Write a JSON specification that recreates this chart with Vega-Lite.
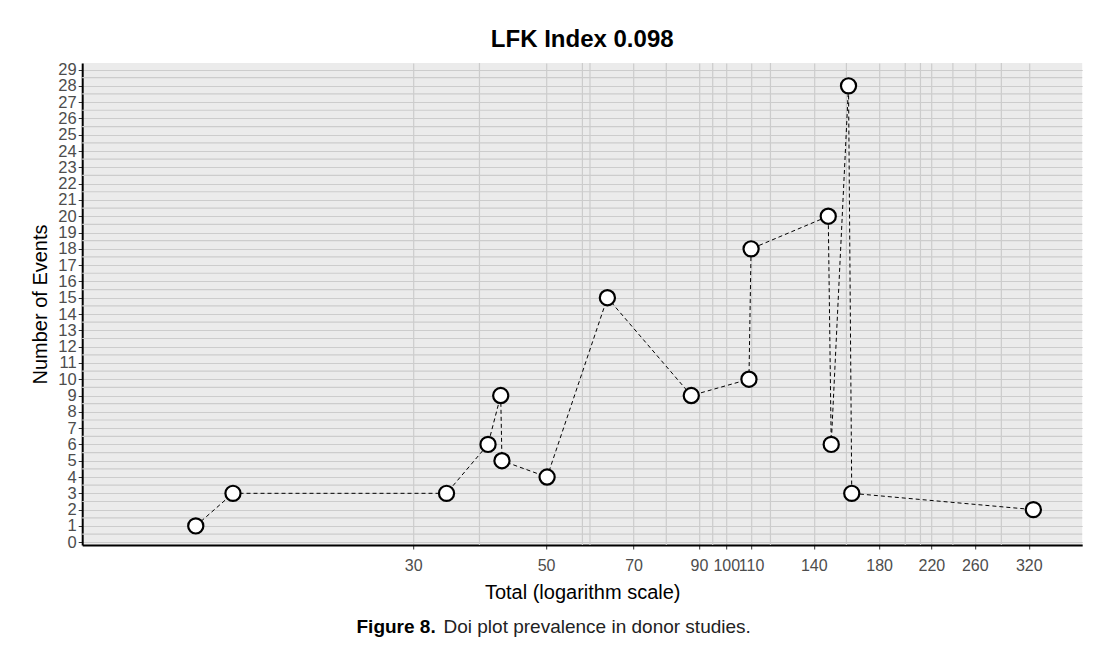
{
  "$schema": "https://vega.github.io/schema/vega-lite/v6.json",
  "padding": {"top": 27, "left": 30, "right": 5, "bottom": 5},
  "background": "white",
  "config": {
    "font": "Liberation Sans",
    "view": {"stroke": null},
    "axis": {
      "labelFont": "Liberation Sans",
      "labelColor": "#4d4d4d",
      "labelFontSize": 16,
      "titleFont": "Liberation Sans",
      "titleFontSize": 20,
      "titleFontWeight": "normal",
      "titleColor": "black",
      "domainColor": "black",
      "domainWidth": 2,
      "tickColor": "#333333",
      "tickSize": 4,
      "gridColor": "#cccccc",
      "gridWidth": 1.2,
      "labelFlush": false,
      "labelBound": false
    }
  },
  "datasets": {
    "studies": [
      {"total": 13.0, "events": 1},
      {"total": 15.0, "events": 3},
      {"total": 34.1, "events": 3},
      {"total": 40.0, "events": 6},
      {"total": 42.0, "events": 9},
      {"total": 42.2, "events": 5},
      {"total": 50.2, "events": 4},
      {"total": 63.3, "events": 15},
      {"total": 87.4, "events": 9},
      {"total": 109.1, "events": 10},
      {"total": 110.0, "events": 18},
      {"total": 148.0, "events": 20},
      {"total": 149.7, "events": 6},
      {"total": 160.0, "events": 28},
      {"total": 162.0, "events": 3},
      {"total": 325.7, "events": 2}
    ],
    "minorx": [
      {"total": 38.7}, {"total": 57.5}, {"total": 59.2}, {"total": 79.4}, {"total": 94.9}, {"total": 118.5},
      {"total": 158.7}, {"total": 199}, {"total": 211}, {"total": 239}, {"total": 288}
    ],
    "minory": [
      {"events": 0.5}, {"events": 1.5}, {"events": 2.5}, {"events": 3.5}, {"events": 4.5}, {"events": 5.5}, {"events": 6.5},
      {"events": 7.5}, {"events": 8.5}, {"events": 9.5}, {"events": 10.5}, {"events": 11.5}, {"events": 12.5}, {"events": 13.5},
      {"events": 14.5}, {"events": 15.5}, {"events": 16.5}, {"events": 17.5}, {"events": 18.5}, {"events": 19.5}, {"events": 20.5},
      {"events": 21.5}, {"events": 22.5}, {"events": 23.5}, {"events": 24.5}, {"events": 25.5}, {"events": 26.5}, {"events": 27.5},
      {"events": 28.5}
    ]
  },
  "vconcat": [
    {
      "title": {"text": "LFK Index 0.098", "fontSize": 24, "fontWeight": "bold", "color": "black", "anchor": "middle", "offset": 10},
      "width": 1000,
      "height": 482,
      "view": {"fill": "#ebebeb", "stroke": null},
      "layer": [
        {
          "data": {"name": "minorx"},
          "mark": {"type": "rule", "color": "#cccccc", "strokeWidth": 1.2},
          "encoding": {
            "x": {
              "field": "total", "type": "quantitative",
              "scale": {"type": "log", "domain": [8.4, 393], "nice": false, "zero": false},
              "axis": {
                "title": "Total (logarithm scale)",
                "values": [30, 50, 70, 90, 100, 110, 140, 180, 220, 260, 320],
                "labelPadding": 8, "titlePadding": 9, "labelOverlap": false, "grid": true
              }
            }
          }
        },
        {
          "data": {"name": "minory"},
          "mark": {"type": "rule", "color": "#cccccc", "strokeWidth": 1.2},
          "encoding": {
            "y": {
              "field": "events", "type": "quantitative",
              "scale": {"domain": [-0.17, 29.4], "nice": false, "zero": false},
              "axis": {
                "title": "Number of Events",
                "values": [0,1,2,3,4,5,6,7,8,9,10,11,12,13,14,15,16,17,18,19,20,21,22,23,24,25,26,27,28,29],
                "labelFontSize": 16.5, "labelPadding": 2, "titlePadding": 7, "labelOverlap": false, "grid": true
              }
            }
          }
        },
        {
          "data": {"name": "studies"},
          "mark": {"type": "line", "color": "black", "strokeWidth": 1, "strokeDash": [4, 3]},
          "encoding": {
            "x": {
              "field": "total", "type": "quantitative",
              "scale": {"type": "log", "domain": [8.4, 393], "nice": false, "zero": false},
              "axis": {
                "title": "Total (logarithm scale)",
                "values": [30, 50, 70, 90, 100, 110, 140, 180, 220, 260, 320],
                "labelPadding": 8, "titlePadding": 9, "labelOverlap": false, "grid": true
              }
            },
            "y": {
              "field": "events", "type": "quantitative",
              "scale": {"domain": [-0.17, 29.4], "nice": false, "zero": false},
              "axis": {
                "title": "Number of Events",
                "values": [0,1,2,3,4,5,6,7,8,9,10,11,12,13,14,15,16,17,18,19,20,21,22,23,24,25,26,27,28,29],
                "labelFontSize": 16.5, "labelPadding": 2, "titlePadding": 7, "labelOverlap": false, "grid": true
              }
            }
          }
        },
        {
          "data": {"name": "studies"},
          "mark": {"type": "point", "filled": true, "fill": "white", "stroke": "black", "strokeWidth": 2.2, "size": 230, "opacity": 1},
          "encoding": {
            "x": {
              "field": "total", "type": "quantitative",
              "scale": {"type": "log", "domain": [8.4, 393], "nice": false, "zero": false},
              "axis": {
                "title": "Total (logarithm scale)",
                "values": [30, 50, 70, 90, 100, 110, 140, 180, 220, 260, 320],
                "labelPadding": 8, "titlePadding": 9, "labelOverlap": false, "grid": true
              }
            },
            "y": {
              "field": "events", "type": "quantitative",
              "scale": {"domain": [-0.17, 29.4], "nice": false, "zero": false},
              "axis": {
                "title": "Number of Events",
                "values": [0,1,2,3,4,5,6,7,8,9,10,11,12,13,14,15,16,17,18,19,20,21,22,23,24,25,26,27,28,29],
                "labelFontSize": 16.5, "labelPadding": 2, "titlePadding": 7, "labelOverlap": false, "grid": true
              }
            }
          }
        }
      ]
    },
    {
      "hconcat": [
        {
          "title": {"text": "Figure 8.", "anchor": "start", "fontSize": 19, "fontWeight": "bold", "color": "black", "offset": 0},
          "width": 1,
          "height": 1,
          "data": {"values": []},
          "mark": "point"
        },
        {
          "title": {"text": "Doi plot prevalence in donor studies.", "anchor": "start", "fontSize": 19, "fontWeight": "normal", "color": "#222222", "offset": 0},
          "width": 1,
          "height": 1,
          "data": {"values": []},
          "mark": "point"
        },
        {
          "width": 50,
          "height": 1,
          "data": {"values": []},
          "mark": "point"
        }
      ],
      "spacing": 7
    }
  ],
  "spacing": 16,
  "center": true
}
